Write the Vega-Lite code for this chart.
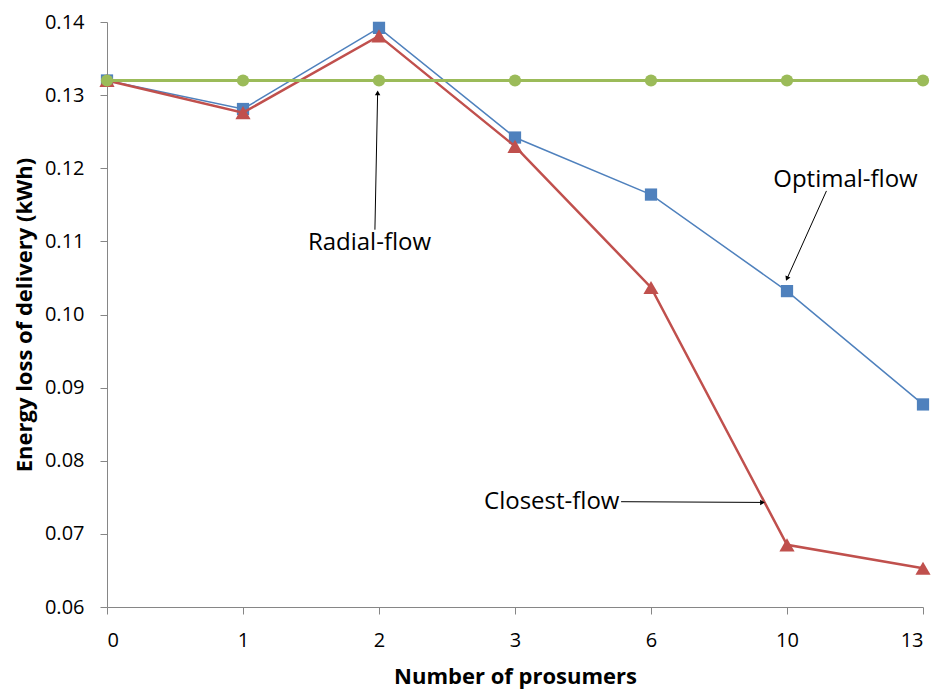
{
  "$schema": "https://vega.github.io/schema/vega-lite/v6.json",
  "width": 816,
  "height": 585,
  "autosize": "none",
  "padding": {"left": 107, "top": 22, "right": 15, "bottom": 82},
  "background": "white",
  "config": {
    "view": {"stroke": null},
    "font": "Open Sans",
    "axis": {
      "grid": false,
      "domainColor": "#868686",
      "tickColor": "#868686",
      "labelColor": "#000000",
      "labelFont": "Open Sans",
      "labelFontSize": 20,
      "titleFont": "Open Sans",
      "titleFontSize": 22,
      "titleFontWeight": "bold",
      "titleColor": "#000000",
      "tickSize": 7
    }
  },
  "datasets": {
    "series": [
      {"series": "Optimal-flow", "i": 0, "v": 0.132},
      {"series": "Optimal-flow", "i": 1, "v": 0.1281},
      {"series": "Optimal-flow", "i": 2, "v": 0.1392},
      {"series": "Optimal-flow", "i": 3, "v": 0.1242},
      {"series": "Optimal-flow", "i": 4, "v": 0.1164},
      {"series": "Optimal-flow", "i": 5, "v": 0.1032},
      {"series": "Optimal-flow", "i": 6, "v": 0.0877},
      {"series": "Closest-flow", "i": 0, "v": 0.132},
      {"series": "Closest-flow", "i": 1, "v": 0.1276},
      {"series": "Closest-flow", "i": 2, "v": 0.1381},
      {"series": "Closest-flow", "i": 3, "v": 0.1230},
      {"series": "Closest-flow", "i": 4, "v": 0.1037},
      {"series": "Closest-flow", "i": 5, "v": 0.0685},
      {"series": "Closest-flow", "i": 6, "v": 0.0653},
      {"series": "Radial-flow", "i": 0, "v": 0.132},
      {"series": "Radial-flow", "i": 1, "v": 0.132},
      {"series": "Radial-flow", "i": 2, "v": 0.132},
      {"series": "Radial-flow", "i": 3, "v": 0.132},
      {"series": "Radial-flow", "i": 4, "v": 0.132},
      {"series": "Radial-flow", "i": 5, "v": 0.132},
      {"series": "Radial-flow", "i": 6, "v": 0.132}
    ],
    "notes": [
      {"label": "Radial-flow", "ti": 1.93, "tv": 0.1098, "i": 1.97, "v": 0.1116, "i2": 1.99, "v2": 0.1303},
      {"label": "Optimal-flow", "ti": 5.43, "tv": 0.1184, "i": 5.29, "v": 0.1169, "i2": 5.0, "v2": 0.1049},
      {"label": "Closest-flow", "ti": 3.27, "tv": 0.0744, "i": 3.78, "v": 0.0744, "i2": 4.82, "v2": 0.0743}
    ]
  },
  "encoding": {
    "x": {
      "field": "i",
      "type": "quantitative",
      "scale": {"domain": [0, 6], "nice": false, "zero": false},
      "axis": {
        "title": "Number of prosumers",
        "values": [0, 1, 2, 3, 4, 5, 6],
        "labelExpr": "['0','1','2','3','6','10','13'][datum.value]",
        "labelPadding": 16,
        "titlePadding": 16
      }
    },
    "y": {
      "field": "v",
      "type": "quantitative",
      "scale": {"domain": [0.06, 0.14], "nice": false, "zero": false},
      "axis": {
        "title": "Energy loss of delivery (kWh)",
        "values": [0.06, 0.07, 0.08, 0.09, 0.10, 0.11, 0.12, 0.13, 0.14],
        "format": ".2f",
        "labelPadding": 16,
        "titlePadding": 8
      }
    }
  },
  "layer": [
    {
      "data": {"name": "series"},
      "transform": [{"filter": "datum.series == 'Optimal-flow'"}],
      "mark": {"type": "line", "color": "#4F81BD", "strokeWidth": 1.5, "point": {"shape": "square", "size": 150, "filled": true, "color": "#4F81BD", "opacity": 1}},
      "encoding": {}
    },
    {
      "data": {"name": "series"},
      "transform": [{"filter": "datum.series == 'Closest-flow'"}],
      "mark": {"type": "line", "color": "#C0504D", "strokeWidth": 2.5, "point": {"shape": "triangle-up", "size": 230, "filled": true, "color": "#C0504D", "opacity": 1}},
      "encoding": {}
    },
    {
      "data": {"name": "series"},
      "transform": [{"filter": "datum.series == 'Radial-flow'"}],
      "mark": {"type": "line", "color": "#9BBB59", "strokeWidth": 3, "point": {"shape": "circle", "size": 150, "filled": true, "color": "#9BBB59", "opacity": 1}},
      "encoding": {}
    },
    {
      "data": {"name": "notes"},
      "mark": {"type": "rule", "color": "#000000", "strokeWidth": 1},
      "encoding": {
        "x2": {"field": "i2"},
        "y2": {"field": "v2"}
      }
    },
    {
      "data": {"name": "notes"},
      "transform": [{"filter": "datum.label == 'Radial-flow'"}],
      "mark": {"type": "point", "shape": "triangle-up", "size": 30, "filled": true, "color": "#000000", "opacity": 1, "angle": 1},
      "encoding": {"x": {"field": "i2", "type": "quantitative"}, "y": {"field": "v2", "type": "quantitative"}}
    },
    {
      "data": {"name": "notes"},
      "transform": [{"filter": "datum.label == 'Optimal-flow'"}],
      "mark": {"type": "point", "shape": "triangle-up", "size": 30, "filled": true, "color": "#000000", "opacity": 1, "angle": 204},
      "encoding": {"x": {"field": "i2", "type": "quantitative"}, "y": {"field": "v2", "type": "quantitative"}}
    },
    {
      "data": {"name": "notes"},
      "transform": [{"filter": "datum.label == 'Closest-flow'"}],
      "mark": {"type": "point", "shape": "triangle-up", "size": 30, "filled": true, "color": "#000000", "opacity": 1, "angle": 90},
      "encoding": {"x": {"field": "i2", "type": "quantitative"}, "y": {"field": "v2", "type": "quantitative"}}
    },
    {
      "data": {"name": "notes"},
      "mark": {"type": "text", "font": "Open Sans", "fontSize": 24, "color": "#000000", "align": "center", "baseline": "middle"},
      "encoding": {
        "x": {"field": "ti", "type": "quantitative"},
        "y": {"field": "tv", "type": "quantitative"},
        "text": {"field": "label"}
      }
    }
  ]
}
